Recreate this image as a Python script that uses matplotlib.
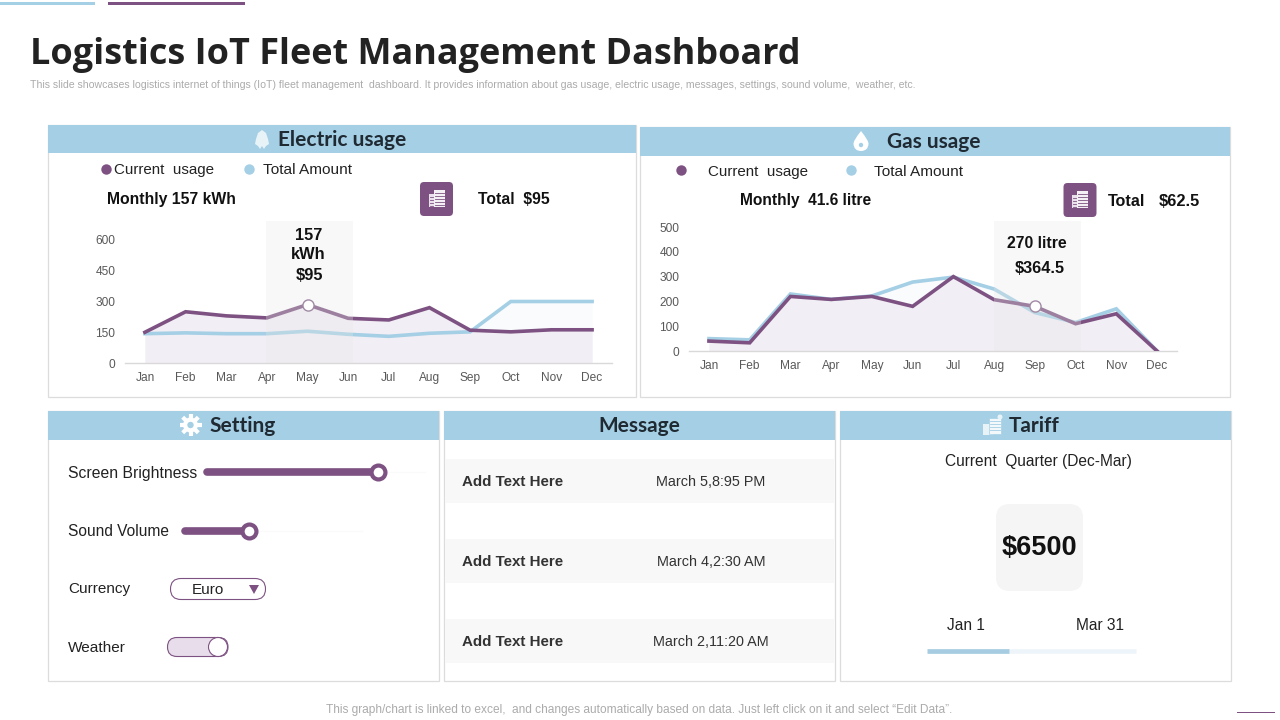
import matplotlib
matplotlib.use("Agg")
import matplotlib.pyplot as plt
from matplotlib.patches import Rectangle, FancyBboxPatch, Circle, PathPatch, Polygon
from matplotlib.path import Path

months = ["Jan","Feb","Mar","Apr","May","Jun","Jul","Aug","Sep","Oct","Nov","Dec"]
electric_current = [150,250,230,220,285,218,210,270,160,152,162,162]
electric_total = [143,147,143,143,155,140,130,145,152,300,300,300]
electric_ticks = [0,150,300,450,600]
gas_current = [40,33,220,208,220,180,300,207,180,110,150,0]
gas_total = [50,45,230,208,222,278,298,250,155,115,170,0]
gas_ticks = [0,100,200,300,400,500]
message_names = ["Add Text Here","Add Text Here","Add Text Here"]
message_times = ["March 5,8:95 PM","March 4,2:30 AM","March 2,11:20 AM"]

PURPLE="#7D5282"; BLUE="#A5CFE5"; GREY="#595959"; DARK="#1F2A33"
SANS="Liberation Sans"; HEAD="Lato"
W,H=1280,720
fig=plt.figure(figsize=(12.8,7.2),dpi=100,facecolor="white")

def px_axes(z):
    a=fig.add_axes([0,0,1,1],zorder=z)
    a.set_xlim(0,W); a.set_ylim(H,0); a.axis("off"); a.patch.set_alpha(0)
    return a
bg=px_axes(0); top=px_axes(5)

def T(a,x,y,s,size,color="#222222",weight="normal",ha="left",family=SANS,**k):
    return a.text(x,y+1,s,fontsize=size,color=color,fontweight=weight,ha=ha,va="center",family=family,**k)

def rrect(a,x0,y0,x1,y1,r,fc,ec="none",lw=0,z=2):
    p=FancyBboxPatch((x0+r,y0+r),x1-x0-2*r,y1-y0-2*r,boxstyle=f"round,pad={r},rounding_size={r}",fc=fc,ec=ec,lw=lw,zorder=z)
    a.add_patch(p); return p

def panel(x0,y0,x1,y1,hb,title,tx):
    bg.add_patch(Rectangle((x0,y0),x1-x0-0.5,y1-y0-0.5,fc="white",ec="#DCDCDC",lw=0.9,zorder=1))
    bg.add_patch(Rectangle((x0,y0),x1-x0,hb-y0,fc=BLUE,ec="none",zorder=2))
    T(bg,tx,(y0+hb)/2,title,15,color=DARK,weight="bold",ha="center",family=HEAD,zorder=3)

def doc_icon(cx,cy):
    rrect(bg,cx-16.5,cy-17,cx+16.5,cy+17,4,PURPLE,z=3)
    bg.add_patch(Rectangle((cx-8,cy-5),5,13,fc="#E9E0EB",ec="none",zorder=4))
    bg.add_patch(Rectangle((cx-3,cy-9),11,17,fc="#F4EFF5",ec="none",zorder=4))
    for yy in range(-6,8,3):
        bg.plot([cx-2,cx+7],[cy+yy,cy+yy],color=PURPLE,lw=0.6,zorder=5)
    for yy in range(-2,8,3):
        bg.plot([cx-7,cx-4],[cy+yy,cy+yy],color=PURPLE,lw=0.6,zorder=5)

# top decoration, title, footer
bg.add_patch(Rectangle((0,2),95,3,fc=BLUE,ec="none"))
bg.add_patch(Rectangle((108,2),137,3,fc=PURPLE,ec="none"))
bg.add_patch(Rectangle((1237,712),38,1.2,fc=PURPLE,ec="none"))
T(bg,30,54,"Logistics IoT Fleet Management Dashboard",25.9,color="#222222",weight="bold",family="Open Sans")
T(bg,30,84,"This slide showcases logistics internet of things (IoT) fleet management  dashboard. It provides information about gas usage, electric usage, messages, settings, sound volume,  weather, etc.",7.6,color="#ABABAB")
T(bg,639.5,709,"This graph/chart is linked to excel,  and changes automatically based on data. Just left click on it and select “Edit Data”.",8.6,color="#ABABAB",ha="center")

panel(48,125,636,397,153,"Electric usage",342)
panel(640,127,1230,397,156,"Gas usage",934)
panel(48,411,439,681,440,"Setting",243)
panel(444,411,835,681,440,"Message",639)
panel(840,411,1231,681,440,"Tariff",1034)

# header icons
bg.add_patch(Polygon([(256,139),(258,133),(262,130),(266,133),(268,139),(269,144),(266,146),(264,149),(262,146),(260,149),(258,146),(255,144)],fc="#E8F3F8",ec="none",zorder=4))
bg.add_patch(Circle((190.5,425),7.5,fc="white",ec="none",zorder=4))
for x1,y1,x2,y2 in [(190.5,414,190.5,436),(179.5,425,201.5,425),(182.7,417.2,198.3,432.8),(182.7,432.8,198.3,417.2)]:
    bg.plot([x1,x2],[y1,y2],color="white",lw=3,solid_capstyle="butt",zorder=4)
bg.add_patch(Circle((190.5,425),3.2,fc=BLUE,ec="none",zorder=5))
drop=Path([(861,131),(853,141),(853.5,144),(854,151),(861,151),(868,151),(868.5,144),(869,141),(861,131)],
          [Path.MOVETO,Path.CURVE3,Path.CURVE3,Path.CURVE3,Path.CURVE3,Path.CURVE3,Path.CURVE3,Path.CURVE3,Path.CURVE3])
bg.add_patch(PathPatch(drop,fc="white",ec="none",zorder=4))
bg.add_patch(Circle((861,145),2.2,fc=BLUE,ec="none",zorder=5))
bg.add_patch(Rectangle((983,424),10,11,fc="#E8F3F8",ec="none",zorder=4))
bg.add_patch(Rectangle((989,418),12,16,fc="#F3F8FB",ec=BLUE,lw=0.5,zorder=5))
for yy in (421,424,427,430):
    bg.plot([990,1000],[yy,yy],color=BLUE,lw=0.6,zorder=6)
bg.add_patch(Circle((1000,417),2.5,fc="#E8F3F8",ec="none",zorder=6))

# electric header rows
bg.plot([106],[169],"o",ms=7.5,color=PURPLE,mec="none",zorder=3)
T(bg,114,169,"Current  usage",10.9)
bg.plot([249],[169],"o",ms=7.5,color=BLUE,mec="none",zorder=3)
T(bg,263,169,"Total Amount",11.1)
T(bg,107,198.5,"Monthly 157 kWh",11.3,color="#111111",weight="bold")
doc_icon(436.5,199)
T(bg,478,198.5,"Total  $95",11.3,color="#111111",weight="bold")

# gas header rows
bg.plot([681],[170],"o",ms=7.5,color=PURPLE,mec="none",zorder=3)
T(bg,708,171,"Current  usage",10.9)
bg.plot([851],[170],"o",ms=7.5,color=BLUE,mec="none",zorder=3)
T(bg,874,171,"Total Amount",11.1)
T(bg,740,200,"Monthly  41.6 litre",11.2,color="#111111",weight="bold")
doc_icon(1080,200)
T(bg,1108,200,"Total",11.6,color="#111111",weight="bold")
T(bg,1159,200,"$62.5",11.8,color="#111111",weight="bold")

def chart(x0,x1,y_zero,y_top_px,y_top_val,current,total,ticks,band,hi,hi_val):
    ax=fig.add_axes([x0/W,1-y_zero/H,(x1-x0)/W,(y_zero-y_top_px)/H],zorder=2)
    ax.patch.set_alpha(0)
    xs=list(range(len(months)))
    ax.fill_between(xs,total,color="#F9FBFD",lw=0,zorder=1)
    ax.fill_between(xs,current,color="#F2EEF5",lw=0,zorder=2)
    ax.plot(xs,total,color=BLUE,lw=2.6,zorder=3,solid_joinstyle="miter")
    ax.plot(xs,current,color=PURPLE,lw=2.6,zorder=4,solid_joinstyle="miter")
    ax.axvspan(band[0],band[1],color="#E8E8E8",alpha=0.3,lw=0,zorder=5)
    ax.plot([hi],[hi_val],"o",ms=8,mfc="white",mec="#A08AA5",mew=1,zorder=6)
    ax.set_xlim(-0.49,11.49); ax.set_ylim(0,y_top_val)
    ax.set_xticks(xs,months); ax.set_yticks(ticks)
    ax.tick_params(length=0,labelsize=8.6,labelcolor=GREY)
    ax.tick_params(axis="x",pad=6.5); ax.tick_params(axis="y",pad=7)
    for l in ax.get_xticklabels()+ax.get_yticklabels():
        l.set_family(SANS)
    for s in ["top","left","right"]:
        ax.spines[s].set_visible(False)
    ax.spines["bottom"].set_color("#D9D9D9"); ax.spines["bottom"].set_linewidth(1)
    return ax

chart(125,612,363,221,(363-221)/123*600,electric_current,electric_total,electric_ticks,(2.98,5.12),4,electric_current[4])
chart(689,1177,351,221,(351-221)/124*500,gas_current,gas_total,gas_ticks,(7.0,9.14),8,gas_current[8])

T(top,308.5,234.5,"157",11.8,color="#111111",weight="bold",ha="center")
T(top,308.5,253.5,"kWh",11.8,color="#111111",weight="bold",ha="center")
T(top,309.5,274.5,"$95",11.8,color="#111111",weight="bold",ha="center")
T(top,1036.5,242.5,"270 litre",11.3,color="#111111",weight="bold",ha="center")
T(top,1039.5,267.5,"$364.5",11.7,color="#111111",weight="bold",ha="center")

# settings
T(bg,68,472.5,"Screen Brightness",11.3)
bg.plot([207,378],[472,472],color=PURPLE,lw=5.5,solid_capstyle="round",zorder=3)
bg.plot([378,425],[472,472],color="#FAFAFA",lw=1,zorder=2)
bg.plot([378],[472],"o",ms=10,mfc="white",mec=PURPLE,mew=3,zorder=4)
T(bg,68,530.5,"Sound Volume",11.2)
bg.plot([185,249],[531,531],color=PURPLE,lw=5.5,solid_capstyle="round",zorder=3)
bg.plot([249,362],[531,531],color="#FAFAFA",lw=1,zorder=2)
bg.plot([249],[531],"o",ms=10,mfc="white",mec=PURPLE,mew=3,zorder=4)
T(bg,68,588.5,"Currency",11)
rrect(bg,170.5,578.5,265.5,599.5,10.5,"white",ec=PURPLE,lw=0.8,z=3)
T(bg,207.5,589,"Euro",11,ha="center",zorder=4)
bg.add_patch(Polygon([(249,585),(259,585),(254,594)],fc=PURPLE,ec="none",zorder=4))
T(bg,68,646.5,"Weather",11.1)
rrect(bg,167.5,637.5,228,656.5,9.5,"#E8DDEA",ec=PURPLE,lw=0.8,z=3)
bg.add_patch(Circle((218,647),9.5,fc="white",ec=PURPLE,lw=0.8,zorder=4))

# messages
for i,yc in enumerate([481,561,641]):
    bg.add_patch(Rectangle((445,yc-22),389,44,fc="#F8F8F8",ec="none",zorder=2))
    T(bg,462,yc,message_names[i],10.9,color="#333333",weight="bold",zorder=3)
    T(bg,711,yc,message_times[i],10.4,color="#333333",ha="center",zorder=3)

# tariff
T(bg,1038,460.5,"Current  Quarter (Dec-Mar)",11.2,ha="center")
rrect(bg,996,504,1083,591,14,"#F5F5F5",z=3)
T(bg,1039.5,547,"$6500",19.5,color="#111111",weight="bold",ha="center",zorder=4)
T(bg,966,624,"Jan 1",11.2,ha="center")
T(bg,1100,624,"Mar 31",11.2,ha="center")
bg.plot([1009,1136],[651,651],color="#EEF5FA",lw=3.4,solid_capstyle="butt",zorder=3)
bg.plot([927,1009],[651,651],color="#A5CCE0",lw=3.4,solid_capstyle="butt",zorder=4)

fig.savefig("out.png",dpi=100)
